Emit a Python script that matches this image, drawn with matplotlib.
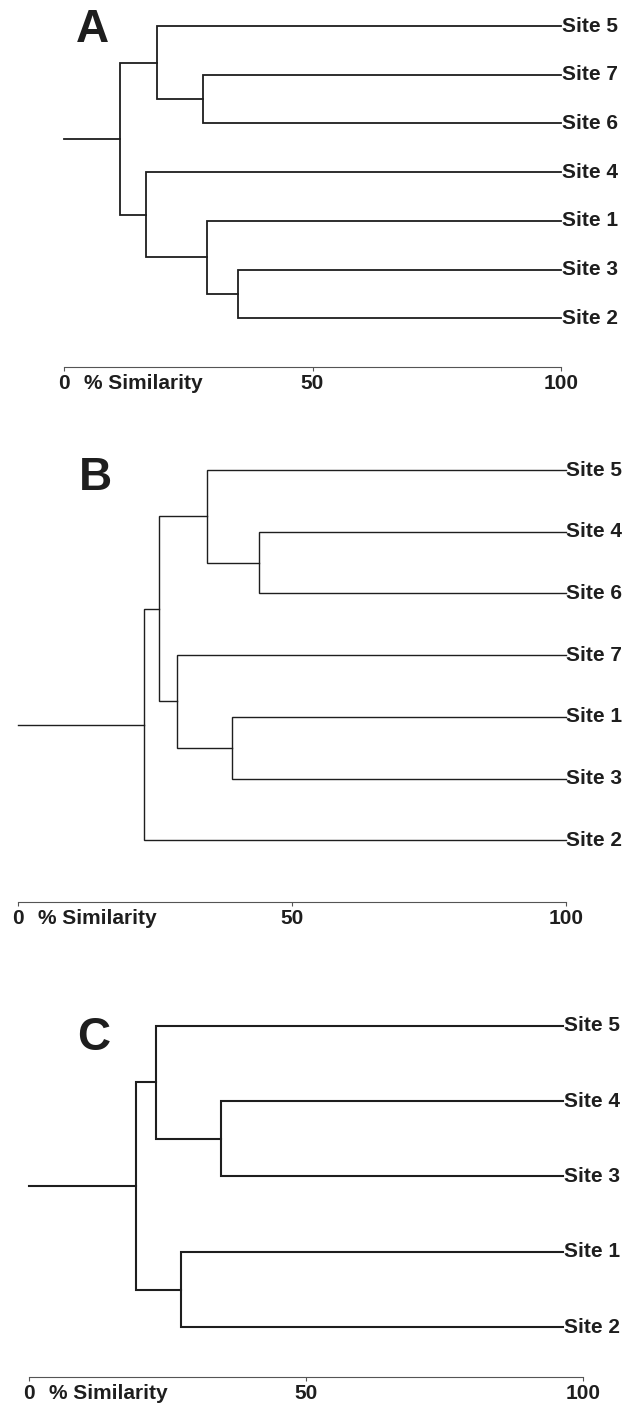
import matplotlib
matplotlib.use("Agg")
import matplotlib.pyplot as plt

# leaves listed top to bottom; merges are (child, child, % similarity),
# children numbered as leaves first, then merges in order
a_sites = ["Site 5", "Site 7", "Site 6", "Site 4", "Site 1", "Site 3", "Site 2"]
a_merges = [(1, 2, 28.0), (0, 7, 18.7), (5, 6, 35.1), (4, 9, 28.8), (3, 10, 16.5), (8, 11, 11.3)]
a_leaf_end = 100.0

b_sites = ["Site 5", "Site 4", "Site 6", "Site 7", "Site 1", "Site 3", "Site 2"]
b_merges = [(1, 2, 44.0), (0, 7, 34.6), (4, 5, 39.1), (3, 9, 29.1), (8, 10, 25.8), (11, 6, 23.1)]
b_leaf_end = 100.0

c_sites = ["Site 5", "Site 4", "Site 3", "Site 1", "Site 2"]
c_merges = [(1, 2, 34.6), (0, 5, 22.9), (3, 4, 27.4), (6, 7, 19.2)]
c_leaf_end = 96.5

ticks = [0, 50, 100]
tick_labels = ["0", "50", "100"]
axis_title = "% Similarity"

W, H = 638, 1407
plt.rcParams["font.family"] = ["Liberation Sans", "DejaVu Sans"]
plt.rcParams["font.weight"] = "bold"
ink = "#1e1e1e"

fig = plt.figure(figsize=(W / 100, H / 100), dpi=100)


def panel(letter, sites, merges, leaf_end, px, lw, letter_xy):
    x0, x100, top, bottom, ybot = px
    ax = fig.add_axes([x0 / W, 1 - bottom / H, (x100 - x0) / W, (bottom - top) / H])
    ax.set_xlim(0, 100)
    ax.set_ylim(ybot, -0.5)
    n = len(sites)
    xs = [leaf_end] * n
    ys = list(range(n))
    for l, r, s in merges:
        ax.plot([xs[l], s, s, xs[r]], [ys[l], ys[l], ys[r], ys[r]],
                color=ink, lw=lw, solid_joinstyle="miter", clip_on=False)
        xs.append(s)
        ys.append((ys[l] + ys[r]) / 2)
    ax.plot([0, xs[-1]], [ys[-1], ys[-1]], color=ink, lw=lw, clip_on=False)
    for i, name in enumerate(sites):
        ax.annotate(name, (leaf_end, i), xytext=(0.5, 0), textcoords="offset points",
                    ha="left", va="center", fontsize=15, color=ink, annotation_clip=False)

    for side in ["top", "right", "left"]:
        ax.spines[side].set_visible(False)
    ax.spines["bottom"].set_color("#555555")
    ax.spines["bottom"].set_linewidth(0.8)
    ax.set_yticks([])
    ax.set_xticks(ticks)
    ax.set_xticklabels(tick_labels, fontsize=15, color=ink, fontweight="bold")
    ax.tick_params(axis="x", direction="out", length=3, width=0.8, color="#555555", pad=2)
    ax.annotate(axis_title, (0, 0), xycoords="axes fraction", xytext=(14.5, -5),
                textcoords="offset points", ha="left", va="top", fontsize=15, color=ink)
    fig.text(letter_xy[0] / W, 1 - letter_xy[1] / H, letter, fontsize=33,
             fontweight="bold", color=ink, ha="left", va="baseline")
    ax.patch.set_alpha(0)


panel("A", a_sites, a_merges, a_leaf_end, (64, 561, 1.7, 367, 7.0), 1.3, (76, 42))
panel("B", b_sites, b_merges, b_leaf_end, (17.5, 565.7, 439.2, 902, 7.0), 1.0, (79, 490))
panel("C", c_sites, c_merges, c_leaf_end, (29.3, 582.7, 988, 1377, 4.66), 1.5, (77, 1050))

fig.savefig("out.png", dpi=100, facecolor="white")
